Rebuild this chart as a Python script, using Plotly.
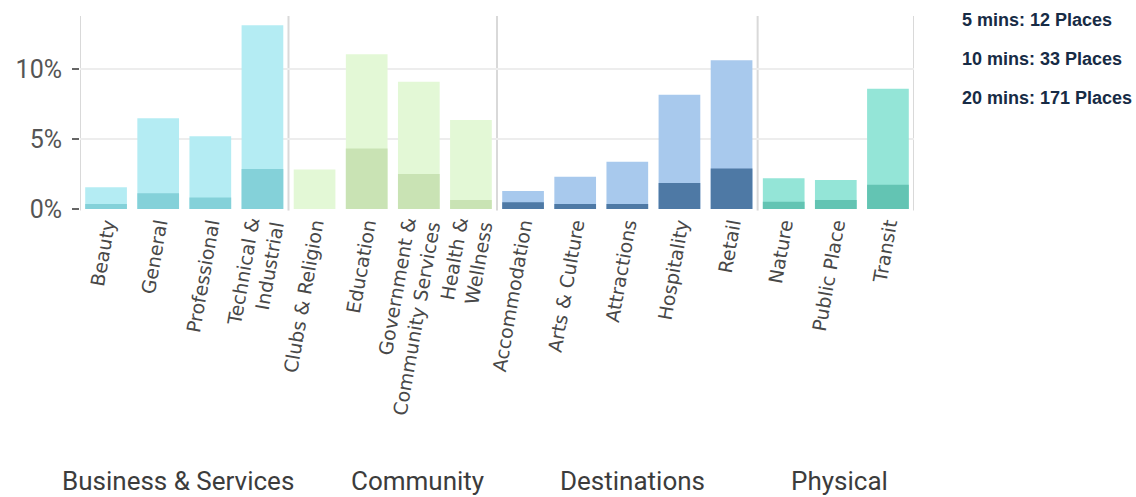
import plotly.graph_objects as go

# categories and their group
categories = ['Beauty', 'General', 'Professional', 'Technical &<br>Industrial',
              'Clubs & Religion', 'Education', 'Government &<br>Community Services', 'Health &<br>Wellness',
              'Accommodation', 'Arts & Culture', 'Attractions', 'Hospitality', 'Retail',
              'Nature', 'Public Place', 'Transit']
groups = ['Business & Services'] * 4 + ['Community'] * 4 + ['Destinations'] * 5 + ['Physical'] * 3

# share of places (%) reachable
pct_20min = [1.55, 6.48, 5.21, 13.14, 2.83, 11.07, 9.10, 6.36, 1.29, 2.31, 3.38, 8.17, 10.64, 2.19, 2.07, 8.60]
pct_10min = [0.36, 1.12, 0.83, 2.86, 0.0, 4.33, 2.50, 0.64, 0.48, 0.36, 0.36, 1.86, 2.90, 0.52, 0.64, 1.74]

y_ticks = [0, 5, 10]
legend_lines = ['5 mins: 12 Places', '10 mins: 33 Places', '20 mins: 171 Places']

# colours per group (light = 20 mins, dark = 10 mins)
light_col = {'Business & Services': '#b4ecf3', 'Community': '#e3f8d6',
             'Destinations': '#a8c9ed', 'Physical': '#94e5d7'}
dark_col = {'Business & Services': '#84d1d9', 'Community': '#c9e3b4',
            'Destinations': '#4e79a5', 'Physical': '#63c4b3'}

fig = go.Figure()
fig.add_trace(go.Bar(x=categories, y=pct_20min, width=0.8,
                     marker=dict(color=[light_col[g] for g in groups], line=dict(width=0)),
                     name='20 mins'))
fig.add_trace(go.Bar(x=categories, y=pct_10min, width=0.8,
                     marker=dict(color=[dark_col[g] for g in groups], line=dict(width=0)),
                     name='10 mins'))

# group separators
for xb in [-0.5, 3.5, 7.5, 12.5, 15.5]:
    fig.add_shape(type='line', x0=xb, x1=xb, xref='x', y0=-0.008, y1=1, yref='paper',
                  line=dict(color='#d9d9d9', width=2), layer='below')

# group labels under the chart
group_pos = {'Business & Services': 1.38, 'Community': 5.98, 'Destinations': 10.09, 'Physical': 14.08}
for g, xpos in group_pos.items():
    fig.add_annotation(x=xpos, xref='x', y=0, yref='paper', yshift=-272, yanchor='middle',
                       text=g, showarrow=False,
                       font=dict(family='Roboto', size=26, color='#3c3c3c'))

# the "legend" text at the right
for i, t in enumerate(legend_lines):
    fig.add_annotation(x=1.055, xref='paper', y=1, yref='paper', yshift=-4 - 39 * i,
                       xanchor='left', yanchor='middle', text='<b>' + t + '</b>', showarrow=False,
                       font=dict(family='Liberation Sans', size=18, color='#172b45'))

fig.update_layout(
    width=1136, height=497,
    margin=dict(l=80, r=222, t=16, b=288),
    barmode='overlay', bargap=0.2,
    showlegend=False,
    plot_bgcolor='white', paper_bgcolor='white',
    font=dict(family='DejaVu Sans', color='#444'),
)
fig.update_xaxes(tickangle=-80, tickfont=dict(family='DejaVu Sans', size=19, color='#484848'),
                 showgrid=False, showline=False, ticks='', range=[-0.5, 15.5])
fig.update_yaxes(range=[0, 13.8], tickvals=y_ticks, ticktext=[str(v) + '%' for v in y_ticks],
                 tickfont=dict(family='Roboto', size=25, color='#555'),
                 ticks='outside', ticklen=7, tickwidth=2, tickcolor='#666', ticklabelstandoff=5,
                 showgrid=True, gridcolor='#ededed', gridwidth=2, zeroline=False, showline=False)

# page has a default 8px body margin; drop it so the figure fills the window
fig.write_html("out.html", config={'displayModeBar': False},
               post_script="document.body.style.margin='0px';")
